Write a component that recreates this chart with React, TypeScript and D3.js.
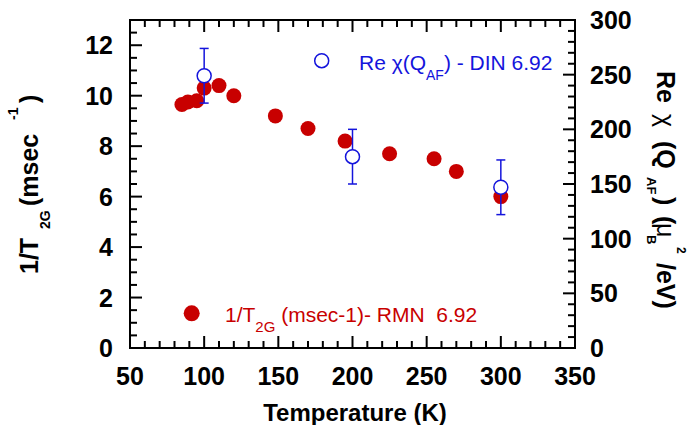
import React from "react";
import * as d3 from "d3";

const redT = [85, 89, 95, 100, 110, 120, 148, 170, 195, 225, 255, 270, 300];
const redV = [9.65, 9.75, 9.8, 10.3, 10.4, 10.0, 9.2, 8.7, 8.2, 7.7, 7.5, 7.0, 6.0];
const blueT = [100, 200, 300];
const blueV = [249, 175, 147];
const blueErr = [25, 25, 25];

const xTicks = [50, 100, 150, 200, 250, 300, 350];
const yLeftTicks = [0, 2, 4, 6, 8, 10, 12];
const yRightTicks = [0, 50, 100, 150, 200, 250, 300];

const RED = "#c80000";
const BLUE = "#1414dc";
const FONT = "'Liberation Sans', Arial, Helvetica, sans-serif";

export default function App() {
  const W = 687, H = 425;
  const L = 130, R = 575, T = 20, B = 348;
  const x = d3.scaleLinear().domain([50, 350]).range([L, R]);
  const yl = d3.scaleLinear().domain([0, 13]).range([B, T]);
  const yr = d3.scaleLinear().domain([0, 300]).range([B, T]);

  const xMinor = d3.range(50, 351, 10);
  const ylMinor = d3.range(0, 13.01, 0.5);
  const yrMinor = d3.range(0, 301, 10);
  const MAJ = 12, MIN = 7;

  return (
    <svg width={W} height={H} style={{ position: "absolute", left: 0, top: 0, background: "#fff" }} fontFamily={FONT}>
      <rect x={0} y={0} width={W} height={H} fill="#fff" />
      {/* ticks */}
      <g stroke="#000" strokeWidth={2}>
        {xMinor.map((v) => {
          const maj = xTicks.includes(v);
          const len = maj ? MAJ : MIN;
          return (
            <g key={"x" + v}>
              <line x1={x(v)} x2={x(v)} y1={B} y2={B - len} />
              <line x1={x(v)} x2={x(v)} y1={T} y2={T + len} />
            </g>
          );
        })}
        {ylMinor.map((v) => {
          const maj = yLeftTicks.includes(v);
          const len = maj ? MAJ : MIN;
          return <line key={"yl" + v} x1={L} x2={L + len} y1={yl(v)} y2={yl(v)} />;
        })}
        {yrMinor.map((v) => {
          const maj = yRightTicks.includes(v);
          const len = maj ? MAJ : MIN;
          return <line key={"yr" + v} x1={R} x2={R - len} y1={yr(v)} y2={yr(v)} />;
        })}
        <rect x={L} y={T} width={R - L} height={B - T} fill="none" />
      </g>
      {/* tick labels */}
      <g fontSize={25} fontWeight="bold" fill="#000">
        {xTicks.map((v) => (
          <text key={"xl" + v} x={x(v)} y={385} textAnchor="middle">{v}</text>
        ))}
        {yLeftTicks.map((v) => (
          <text key={"yll" + v} x={113} y={yl(v) + 9} textAnchor="end">{v}</text>
        ))}
        {yRightTicks.map((v) => (
          <text key={"yrl" + v} x={590} y={yr(v) + 9} textAnchor="start">{v}</text>
        ))}
      </g>
      {/* axis titles */}
      <text x={355} y={421} textAnchor="middle" fontSize={24} fontWeight="bold">Temperature (K)</text>
      <text transform="translate(38,0) rotate(-90)" fontSize={25} fontWeight="bold">
        <tspan x={-274} y={0}>1/T</tspan>
        <tspan x={-229} y={12} fontSize={14}>2G</tspan>
        <tspan x={-206} y={0}>(msec</tspan>
        <tspan x={-120} y={-20} fontSize={14}>-1</tspan>
        <tspan x={-103} y={0}>)</tspan>
      </text>
      <text transform="translate(657,0) rotate(90)" fontSize={25} fontWeight="bold">
        <tspan x={71} y={0}>Re</tspan>
        <tspan x={114} y={0} fontWeight="normal">χ</tspan>
        <tspan x={141} y={0}>(Q</tspan>
        <tspan x={177} y={10} fontSize={13}>AF</tspan>
        <tspan x={197} y={0}>)</tspan>
        <tspan x={216} y={0}>(</tspan>
        <tspan x={223} y={0} fontWeight="normal">μ</tspan>
        <tspan x={235} y={10} fontSize={13}>B</tspan>
        <tspan x={247} y={-20} fontSize={12}>2</tspan>
        <tspan x={263} y={0}>/eV)</tspan>
      </text>
      {/* red data */}
      {redT.map((t, i) => (
        <circle key={"r" + i} cx={x(t)} cy={yl(redV[i])} r={7.5} fill={RED} />
      ))}
      {/* blue data with error bars */}
      <g stroke={BLUE} strokeWidth={1.5} fill="none">
        {blueT.map((t, i) => {
          const cx = x(t);
          const y1 = yr(blueV[i] + blueErr[i]);
          const y2 = yr(blueV[i] - blueErr[i]);
          return (
            <g key={"b" + i}>
              <line x1={cx} x2={cx} y1={y1} y2={y2} />
              <line x1={cx - 4.5} x2={cx + 4.5} y1={y1} y2={y1} />
              <line x1={cx - 4.5} x2={cx + 4.5} y1={y2} y2={y2} />
              <circle cx={cx} cy={yr(blueV[i])} r={7} fill="#fff" />
            </g>
          );
        })}
      </g>
      {/* legends */}
      <circle cx={321.7} cy={60.7} r={7} fill="none" stroke={BLUE} strokeWidth={1.5} />
      <text x={359} y={70} fontSize={21} fill={BLUE}>
        <tspan>Re χ(Q</tspan>
        <tspan dy={10} fontSize={14}>AF</tspan>
        <tspan dy={-10}>) - DIN 6.92</tspan>
      </text>
      <circle cx={191.7} cy={313.3} r={8} fill={RED} />
      <text x={225} y={321.7} fontSize={21} fill={RED} style={{ whiteSpace: "pre" }}>
        <tspan>1/T</tspan>
        <tspan dy={10} fontSize={15}>2G</tspan>
        <tspan dy={-10}>{" (msec-1)- RMN  6.92"}</tspan>
      </text>
    </svg>
  );
}
